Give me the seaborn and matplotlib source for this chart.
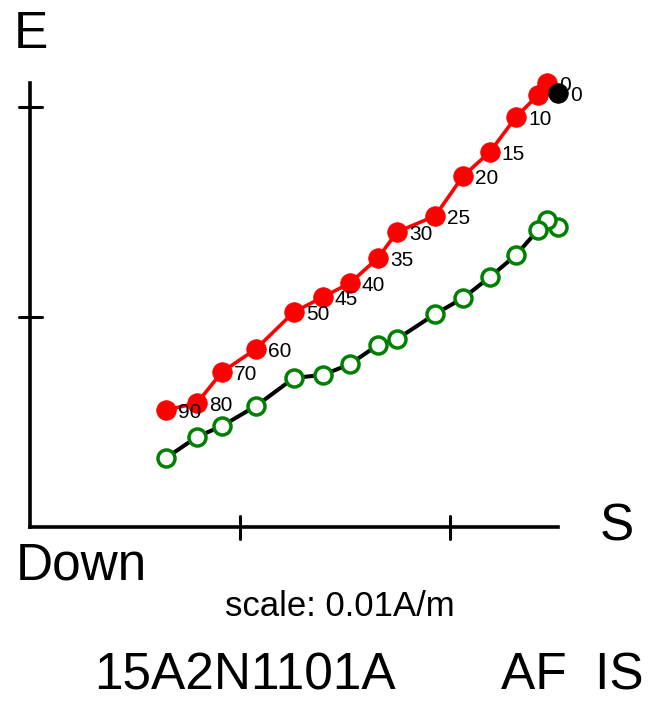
import matplotlib
matplotlib.use("Agg")
import matplotlib.pyplot as plt
import seaborn as sns
import pandas as pd
import numpy as np

# Data in units of 1e-3 A/m
steps = ["0", "5", "10", "15", "20", "25", "30", "35", "40", "45", "50", "60", "70", "80", "90"]
south = [24.62, 24.19, 23.14, 21.90, 20.62, 19.29, 17.48, 16.57, 15.24, 13.95, 12.57, 10.76, 9.14, 7.95, 6.48]
east = [21.14, 20.57, 19.52, 17.86, 16.71, 14.81, 14.05, 12.81, 11.62, 10.95, 10.24, 8.48, 7.38, 5.90, 5.57]
down = [14.62, 14.14, 12.95, 11.90, 10.90, 10.14, 8.95, 8.67, 7.76, 7.24, 7.10, 5.76, 4.81, 4.29, 3.29]
nrm_label = "0"
nrm_south = [25.14]
nrm_east = [20.67]
nrm_down = [14.29]
tick_values = [10, 20]

sns.set_theme(style="white")
plt.rcParams['font.family'] = ['Liberation Sans', 'DejaVu Sans']

W, H = 648, 702
fig = plt.figure(figsize=(W / 100, H / 100), dpi=100)
ax = fig.add_axes([0, 0, 1, 1])
ax.set_axis_off()
ppu = 21.0
ox, oy = 30, 527
ax.set_xlim(-ox / ppu, (W - ox) / ppu)
ax.set_ylim(-(H - oy) / ppu, oy / ppu)

df = pd.DataFrame({"step": steps, "S": south, "E": east, "D": down})

# axes lines
xmax = max(south + nrm_south)
ymax = max(east + nrm_east)
ax.plot([0, xmax], [0, 0], color="black", lw=2.6, solid_capstyle="projecting", zorder=1)
ax.plot([0, 0], [0, ymax], color="black", lw=2.6, solid_capstyle="projecting", zorder=1)
tl = 11.5 / ppu
for t in tick_values:
    ax.plot([t, t], [-tl, tl], color="black", lw=2.2, zorder=1)
    ax.plot([-tl, tl], [t, t], color="black", lw=2.2, zorder=1)

# vertical projection (green open)
dd = pd.DataFrame({"S": nrm_south + south, "D": nrm_down + down})
sns.lineplot(data=df, x="S", y="D", sort=False, color="black", lw=2.9, ax=ax, zorder=2)
sns.scatterplot(data=dd, x="S", y="D", s=150, marker="o", facecolor="white",
                edgecolor="#008000", linewidth=2.5, ax=ax, zorder=3, legend=False)

# horizontal projection (red filled)
sns.lineplot(data=df, x="S", y="E", sort=False, color="#ff0000", lw=2.6, ax=ax, zorder=4)
sns.scatterplot(data=df, x="S", y="E", s=200, marker="o", color="#ff0000",
                edgecolor="#ff0000", linewidth=0.5, ax=ax, zorder=5, legend=False)
for s, e, lab in zip(south, east, steps):
    ax.annotate(lab, (s, e), xytext=(8.6, -1.5), textcoords="offset points",
                ha="left", va="center", fontsize=15, color="black", zorder=6)

# NRM point (black)
sns.scatterplot(x=nrm_south, y=nrm_east, s=200, marker="o", color="black",
                edgecolor="black", linewidth=0.5, ax=ax, zorder=7, legend=False)
ax.annotate(nrm_label, (nrm_south[0], nrm_east[0]), xytext=(8.6, -1.5),
            textcoords="offset points", ha="left", va="center", fontsize=15,
            color="black", zorder=8)
ax.set_xlabel("")
ax.set_ylabel("")

def ft(px, py, s, size, ha="center"):
    fig.text(px / W, 1 - py / H, s, ha=ha, va="center", fontsize=size, color="black")

ft(31, 34, "E", 37)
ft(617, 527, "S", 37)
ft(81, 566, "Down", 37)
ft(340, 606, "scale: 0.01A/m", 25)
ft(245, 676, "15A2N1101A", 37)
ft(572, 676, "AF  IS", 37)

fig.savefig("out.png", dpi=100)
